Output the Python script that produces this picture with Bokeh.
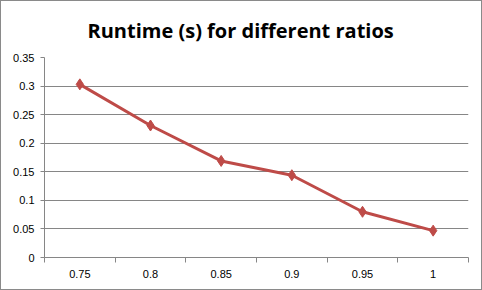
from bokeh.plotting import figure
from bokeh.models import FixedTicker, Range1d
from bokeh.embed import file_html
from bokeh.resources import INLINE

title_text = "Runtime (s) for different ratios"
ratios = ["0.75", "0.8", "0.85", "0.9", "0.95", "1"]
runtime = [0.303, 0.231, 0.169, 0.144, 0.080, 0.047]
y_ticks = [0, 0.05, 0.1, 0.15, 0.2, 0.25, 0.3, 0.35]
y_labels = ["0", "0.05", "0.1", "0.15", "0.2", "0.25", "0.3", "0.35"]

xs = [i + 0.5 for i in range(len(ratios))]
color = "#BE4B48"
grey = "#868686"
font = "Liberation Sans"

p = figure(width=482, height=290, output_backend="svg", toolbar_location=None,
           x_range=Range1d(0, len(ratios)), y_range=Range1d(0, 0.35),
           min_border_left=43, min_border_right=15, min_border_top=56, min_border_bottom=34)
p.title.text = title_text
p.title.text_font = "Open Sans"
p.title.text_font_size = "20px"
p.title.text_font_style = "bold"
p.title.align = "left"
p.title.offset = 43
p.title.vertical_align = "top"
p.title.text_color = "black"
p.title.standoff = 24
p.outline_line_color = None
p.styles = {"border": "1px solid #8a8a8a", "box-sizing": "border-box"}

p.line(xs, runtime, line_color=color, line_width=3)
p.scatter(xs, runtime, marker="diamond", size=11, fill_color=color, line_color=color)

# x axis
p.xaxis.ticker = FixedTicker(ticks=xs, minor_ticks=list(range(len(ratios) + 1)))
p.xaxis.major_label_overrides = {x: r for x, r in zip(xs, ratios)}
p.xaxis.major_tick_line_color = None
p.xaxis.minor_tick_line_color = grey
p.xaxis.minor_tick_in = 0
p.xaxis.minor_tick_out = 5
p.xaxis.axis_line_color = grey
p.xaxis.major_label_standoff = 6
p.xaxis.major_label_text_font = font
p.xaxis.major_label_text_font_size = "11px"
p.xaxis.major_label_text_color = "black"
p.xgrid.grid_line_color = None

# y axis
p.yaxis.ticker = FixedTicker(ticks=y_ticks, minor_ticks=[])
p.yaxis.major_label_overrides = {t: l for t, l in zip(y_ticks, y_labels)}
p.yaxis.axis_line_color = grey
p.yaxis.major_tick_line_color = grey
p.yaxis.major_tick_in = 0
p.yaxis.major_tick_out = 4
p.yaxis.major_label_standoff = 6
p.yaxis.major_label_text_font = font
p.yaxis.major_label_text_font_size = "11px"
p.yaxis.major_label_text_color = "black"
p.ygrid.ticker = FixedTicker(ticks=y_ticks)
p.ygrid.grid_line_color = grey
p.ygrid.grid_line_alpha = 1.0

open("out.html", "w").write(file_html(p, INLINE))
